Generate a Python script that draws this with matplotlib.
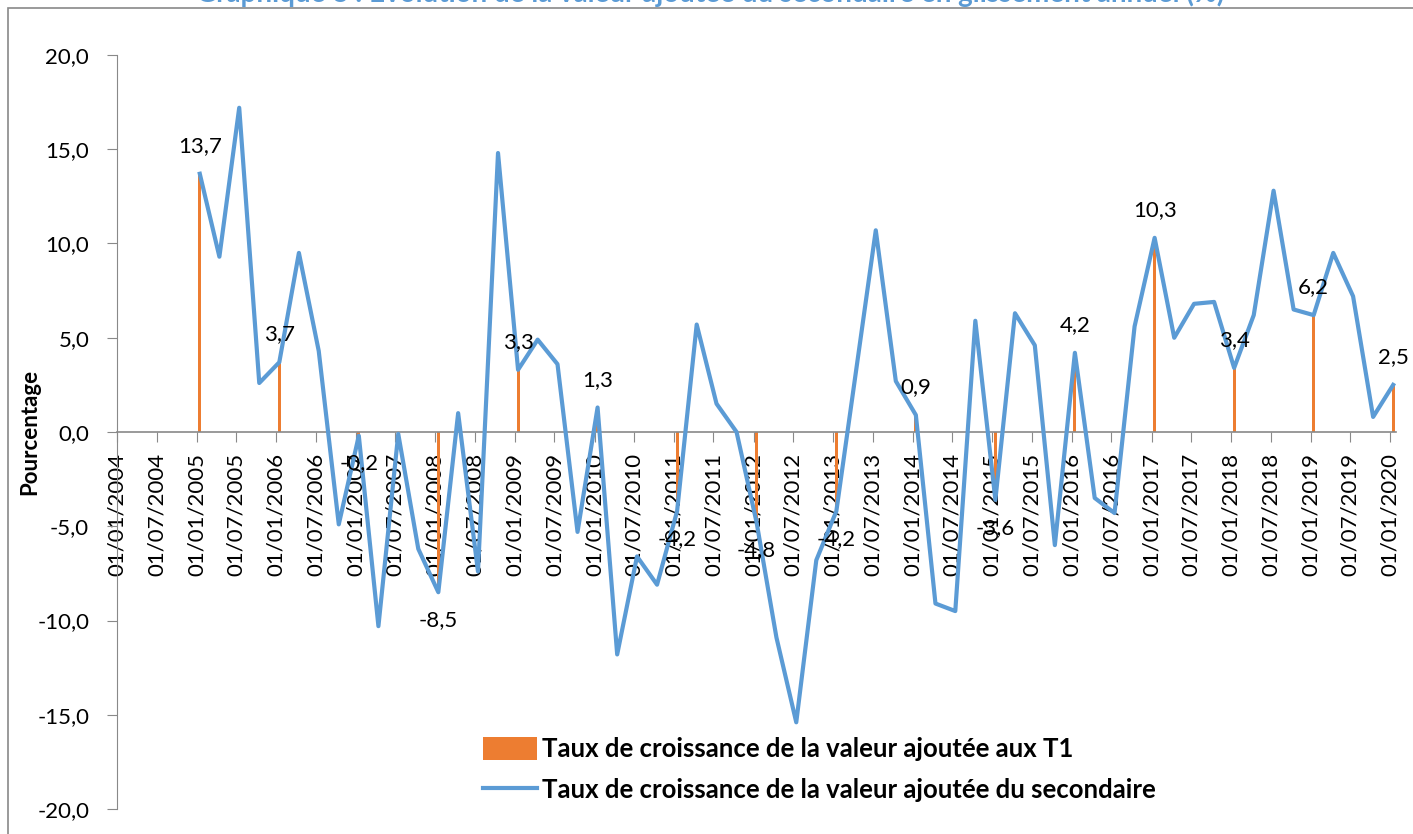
import matplotlib
matplotlib.use('Agg')
import matplotlib.pyplot as plt
import matplotlib.dates as mdates
import matplotlib.ticker as mticker
from matplotlib.patches import Rectangle, Patch
from matplotlib.lines import Line2D
import pandas as pd

plt.rcParams['font.family'] = ['Lato', 'DejaVu Sans']

# trimestres 2005T1 -> 2020T1, posés vers le 15 du mois comme dans le graphique d'origine
trimestres = pd.date_range('2005-01-01', '2020-01-01', freq='QS') + pd.Timedelta(days=14)
va_secondaire = [
    13.7, 9.3, 17.2, 2.6,
    3.7, 9.5, 4.3, -4.9,
    -0.2, -10.3, -0.1, -6.2,
    -8.5, 1.0, -7.4, 14.8,
    3.3, 4.9, 3.6, -5.3,
    1.3, -11.8, -6.6, -8.1,
    -4.2, 5.7, 1.5, 0.0,
    -4.8, -10.9, -15.4, -6.8,
    -4.2, 3.2, 10.7, 2.7,
    0.9, -9.1, -9.5, 5.9,
    -3.6, 6.3, 4.6, -6.0,
    4.2, -3.5, -4.3, 5.6,
    10.3, 5.0, 6.8, 6.9,
    3.4, 6.2, 12.8, 6.5,
    6.2, 9.5, 7.2, 0.8,
    2.5,
]

annees_t1 = pd.date_range('2005-01-01', '2020-01-01', freq='YS') + pd.Timedelta(days=14)
va_t1 = [13.7, 3.7, -0.2, -8.5, 3.3, 1.3, -4.2, -4.8, -4.2, 0.9, -3.6, 4.2, 10.3, 3.4, 6.2, 2.5]

titre = "Graphique 8 : Evolution de la valeur ajoutée du secondaire en glissement annuel (%)"
nom_t1 = "Taux de croissance de la valeur ajoutée aux T1"
nom_sec = "Taux de croissance de la valeur ajoutée du secondaire"

ORANGE = '#ED7D31'
BLEU = '#5B9BD5'
GRIS = '#898989'

fig = plt.figure(figsize=(14.13, 8.34), dpi=100)
ax = fig.add_axes([117 / 1413, 1 - 809 / 834, (1396 - 117) / 1413, (809 - 55) / 834])

ax.bar(annees_t1, va_t1, width=14, color=ORANGE, zorder=2)
ax.plot(trimestres, va_secondaire, color=BLEU, lw=3.0, solid_joinstyle='round', zorder=3)

for x, v in zip(annees_t1, va_t1):
    ax.annotate(f"{v:.1f}".replace('.', ','), (x, v), xytext=(0, 20 if v >= 0 else -20),
                textcoords='offset points', ha='center', va='center', fontsize=16, zorder=4)

ax.set_ylim(-20, 20)
ax.yaxis.set_major_locator(mticker.MultipleLocator(5))
ax.yaxis.set_major_formatter(mticker.FuncFormatter(lambda v, p: f"{v:.1f}".replace('.', ',')))
ax.set_xlim(pd.Timestamp('2004-01-01'), pd.Timestamp('2020-01-28'))
ax.xaxis.set_major_locator(mdates.MonthLocator(bymonth=[1, 7], bymonthday=1))
ax.xaxis.set_major_formatter(mdates.DateFormatter('%d/%m/%Y'))

for s in ['top', 'right']:
    ax.spines[s].set_visible(False)
ax.spines['left'].set_color(GRIS)
# axe des x à la hauteur de zéro
ax.spines['bottom'].set_position(('data', 0))
ax.spines['bottom'].set_color(GRIS)
ax.spines['bottom'].set_linewidth(1.2)
ax.spines['bottom'].set_zorder(2.5)
ax.tick_params(axis='y', length=7, color=GRIS, pad=13, labelsize=16)
ax.tick_params(axis='x', length=7, color=GRIS, pad=8, labelsize=16, labelrotation=90)

fig.text(30 / 1413, 1 - 432 / 834, "Pourcentage", rotation=90, ha='center', va='center',
         fontsize=16, fontweight='bold')

# titre coupé en haut, comme dans l'image d'origine
fig.text(710 / 1413, 1 - 2 / 834, titre, ha='center', va='baseline', fontsize=20,
         fontweight='bold', color=BLEU)

fig.patches.append(Rectangle((8 / 1413, -0.01), 1.0, 1 - 8 / 834 + 0.01, transform=fig.transFigure,
                             fill=False, edgecolor=GRIS, lw=1.2))

poignees = [Patch(facecolor=ORANGE, edgecolor='none'), Line2D([], [], color=BLEU, lw=3.0)]
fig.legend(poignees, [nom_t1, nom_sec], loc='upper left', bbox_to_anchor=(470 / 1413, 1 - 724 / 834),
           frameon=False, borderpad=0, handlelength=2.1, handleheight=1.0, handletextpad=0.2,
           labelspacing=0.65, prop={'size': 18.5, 'weight': 'bold'})

fig.savefig('out.png', dpi=100)
